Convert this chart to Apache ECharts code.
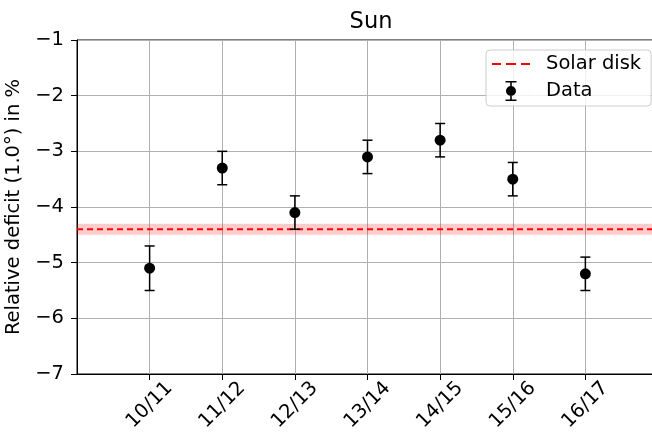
<!DOCTYPE html>
<html lang="en">
<head>
    <meta charset="UTF-8">
    <title>Sun</title>
    <script src="https://cdn.jsdelivr.net/npm/echarts@6/dist/echarts.min.js"></script>
    <style>
        body { margin: 0; background: #fff; }
    </style>
</head>
<body>
<div id="myDiv" style="width: 652px;height: 435px"></div>
<script>
    // data
    var seasons = ['10/11', '11/12', '12/13', '13/14', '14/15', '15/16', '16/17'];
    var deficit = [-5.1, -3.3, -4.1, -3.1, -2.8, -3.5, -5.2];
    var deficitErr = [0.4, 0.3, 0.3, 0.3, 0.3, 0.3, 0.3];
    var solarDisk = -4.4;
    var solarDiskErr = 0.1;
    var yTicks = [-7, -6, -5, -4, -3, -2, -1];

    var font = '"DejaVu Sans", sans-serif';
    var fs = 19.5;
    var points = seasons.map(function (s, i) { return [i + 1, deficit[i]]; });
    var bars = seasons.map(function (s, i) { return [i + 1, deficit[i], deficitErr[i]]; });
    var xPos = seasons.map(function (s, i) { return i + 1; });

    var mainChart = echarts.init(document.getElementById('myDiv'));

    var option = {
        animation: false,
        title: {
            text: 'Sun',
            left: 366,
            textAlign: 'center',
            top: 6,
            textStyle: { fontFamily: font, fontSize: 22.5, fontWeight: 'normal', color: '#000' }
        },
        legend: {
            orient: 'vertical',
            left: 486,
            top: 50,
            padding: [4, 10, 5, 6],
            itemGap: 7,
            itemWidth: 38,
            itemHeight: 20,
            borderColor: '#cccccc',
            borderWidth: 1,
            borderRadius: 4,
            backgroundColor: 'rgba(255,255,255,0.8)',
            textStyle: { fontFamily: font, fontSize: fs, color: '#000', padding: [0, 0, 0, 11] },
            data: [
                { name: 'Solar disk', icon: 'path://M0,9 L9,9 L9,11 L0,11 Z M14,9 L24,9 L24,11 L14,11 Z M29,9 L38,9 L38,11 L29,11 Z M0,0 L0.01,0 L0.01,20 L0,20 Z M38,0 L38.01,0 L38.01,20 L38,20 Z' },
                { name: 'Data', icon: 'path://M13.5,0 L24.5,0 L24.5,1.6 L19.8,1.6 L19.8,18.4 L24.5,18.4 L24.5,20 L13.5,20 L13.5,18.4 L18.2,18.4 L18.2,1.6 L13.5,1.6 Z M19,5 A5,5 0 1,1 19,15 A5,5 0 1,1 19,5 Z M0,0 L0.01,0 L0.01,20 L0,20 Z M38,0 L38.01,0 L38.01,20 L38,20 Z' }
            ]
        },
        grid: {
            left: 77,
            top: 40,
            right: -6,
            bottom: 61,
            containLabel: false,
            outerBoundsMode: 'none',
            show: true,
            borderColor: '#000',
            borderWidth: 1
        },
        xAxis: {
            type: 'value',
            min: 0,
            max: 8,
            interval: 1,
            axisLine: { show: true, lineStyle: { color: '#000', width: 1 } },
            axisTick: { show: true, customValues: xPos, length: 6, lineStyle: { color: '#000' } },
            axisLabel: {
                customValues: xPos,
                rotate: 45,
                margin: 31,
                align: 'center',
                verticalAlign: 'middle',
                fontFamily: font,
                fontSize: fs,
                color: '#000',
                formatter: function (v) { return seasons[v - 1] || ''; }
            },
            splitLine: { show: true, lineStyle: { color: '#b0b0b0', width: 1 } }
        },
        yAxis: {
            type: 'value',
            min: yTicks[0],
            max: yTicks[yTicks.length - 1],
            interval: 1,
            name: 'Relative deficit (1.0°) in %',
            nameLocation: 'middle',
            nameGap: 28,
            nameTextStyle: { fontFamily: font, fontSize: fs, color: '#000' },
            axisLine: { show: true, lineStyle: { color: '#000', width: 1 } },
            axisTick: { show: true, length: 6, lineStyle: { color: '#000' } },
            axisLabel: {
                margin: 13,
                fontFamily: font,
                fontSize: fs,
                color: '#000',
                formatter: function (v) { return String(v).replace('-', '\u2212'); }
            },
            splitLine: { show: true, lineStyle: { color: '#b0b0b0', width: 1 } }
        },
        series: [
            {
                name: 'Solar disk',
                type: 'line',
                data: [[0, solarDisk], [8, solarDisk]],
                symbol: 'none',
                lineStyle: { color: '#ff0000', width: 2, type: [6, 4] },
                itemStyle: { color: '#ff0000' },
                z: 3,
                markArea: {
                    silent: true,
                    itemStyle: { color: 'rgba(255,0,0,0.2)' },
                    data: [[{ yAxis: solarDisk + solarDiskErr }, { yAxis: solarDisk - solarDiskErr }]]
                }
            },
            {
                name: 'Data',
                type: 'custom',
                z: 4,
                renderItem: function (params, api) {
                    var x = api.value(0), y = api.value(1), e = api.value(2);
                    var top = api.coord([x, y + e]);
                    var bot = api.coord([x, y - e]);
                    var style = { stroke: '#000', lineWidth: 1.5 };
                    return {
                        type: 'group',
                        children: [
                            { type: 'line', shape: { x1: top[0], y1: top[1], x2: bot[0], y2: bot[1] }, style: style },
                            { type: 'line', shape: { x1: top[0] - 5, y1: top[1], x2: top[0] + 5, y2: top[1] }, style: style },
                            { type: 'line', shape: { x1: bot[0] - 5, y1: bot[1], x2: bot[0] + 5, y2: bot[1] }, style: style }
                        ]
                    };
                },
                itemStyle: { color: '#000' },
                data: bars
            },
            {
                name: 'Data',
                type: 'scatter',
                symbol: 'circle',
                symbolSize: 11,
                itemStyle: { color: '#000', opacity: 1 },
                z: 5,
                data: points
            }
        ]
    };
    mainChart.setOption(option);
</script>
</body>
</html>
